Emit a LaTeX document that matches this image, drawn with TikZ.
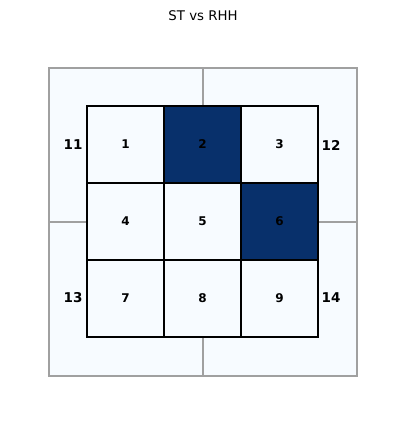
\documentclass[tikz,border=0pt]{standalone}
\usepackage{fontspec}
\setmainfont{DejaVu Sans}
\definecolor{lowblue}{HTML}{F7FBFF}
\definecolor{highblue}{HTML}{08306B}
\definecolor{quadgray}{HTML}{A0A0A0}
\tikzset{
  quad/.style={draw=quadgray, line width=1.2pt, fill=lowblue, minimum size=154pt, inner sep=0pt},
  cell/.style={draw=black, line width=1.2pt, fill=lowblue, minimum size=77pt, inner sep=0pt,
    font=\fontsize{12}{14}\selectfont\bfseries},
  hot/.style={cell, fill=highblue},
  quadlabel/.style={font=\fontsize{13.5}{15}\selectfont\bfseries}
}
\begin{document}
\begin{tikzpicture}[x=1pt,y=-1pt]
  \useasboundingbox (0,0) rectangle (404,424);
  \node at (203,16) (title) {\fontsize{13.3}{15}\selectfont ST vs RHH};
  % outer quadrants
  \node[quad] at (126,145) (q11) {};
  \node[quad] at (280,145) (q12) {};
  \node[quad] at (126,299) (q13) {};
  \node[quad] at (280,299) (q14) {};
  \node[quadlabel] at (73,145) (l11) {11};
  \node[quadlabel] at (331,145) (l12) {12};
  \node[quadlabel] at (73,298) (l13) {13};
  \node[quadlabel] at (331,298) (l14) {14};
  % inner grid
  \node[cell] at (125.5,144.5) (c1) {1};
  \node[hot]  at (202.5,144.5) (c2) {2};
  \node[cell] at (279.5,144.5) (c3) {3};
  \node[cell] at (125.5,221.5) (c4) {4};
  \node[cell] at (202.5,221.5) (c5) {5};
  \node[hot]  at (279.5,221.5) (c6) {6};
  \node[cell] at (125.5,298.5) (c7) {7};
  \node[cell] at (202.5,298.5) (c8) {8};
  \node[cell] at (279.5,298.5) (c9) {9};
\end{tikzpicture}
\end{document}
